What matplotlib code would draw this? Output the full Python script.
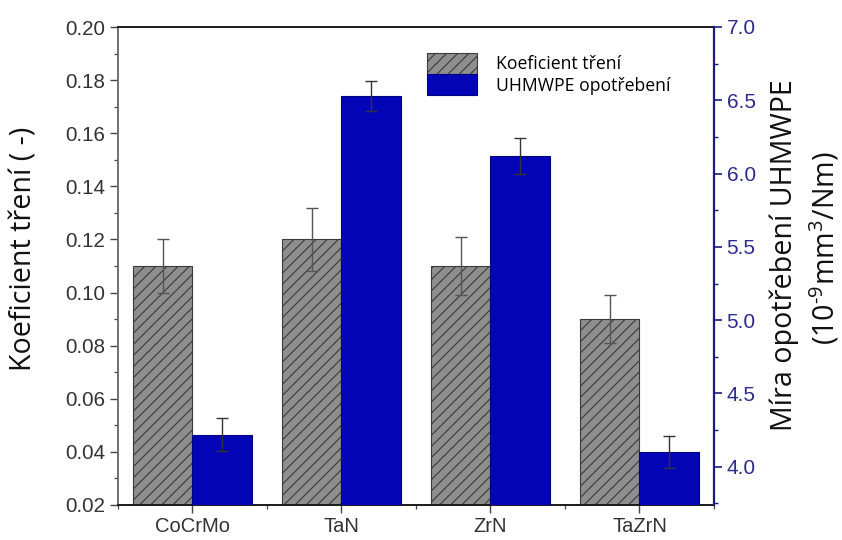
import matplotlib
matplotlib.use("Agg")
import matplotlib.pyplot as plt
import numpy as np
from matplotlib.ticker import FixedLocator

categories = ["CoCrMo", "TaN", "ZrN", "TaZrN"]
friction = [0.110, 0.120, 0.110, 0.090]
friction_err = [0.010, 0.012, 0.011, 0.009]
wear = [4.22, 6.53, 6.12, 4.10]
wear_err = [0.11, 0.10, 0.12, 0.11]

left_ticks = [0.02, 0.04, 0.06, 0.08, 0.10, 0.12, 0.14, 0.16, 0.18, 0.20]
right_ticks = [4.0, 4.5, 5.0, 5.5, 6.0, 6.5, 7.0]

plt.rcParams["hatch.linewidth"] = 0.8
plt.rcParams["hatch.color"] = "#1a1a1a"
plt.rcParams["mathtext.fontset"] = "custom"
plt.rcParams["mathtext.rm"] = "Open Sans"
plt.rcParams["mathtext.it"] = "Open Sans:italic"
plt.rcParams["mathtext.bf"] = "Open Sans:bold"

fig = plt.figure(figsize=(8.42, 5.40), dpi=100)
ax = fig.add_axes([0.140, 0.065, 0.708, 0.885])
ax2 = ax.twinx()

x = np.arange(len(categories))
w = 0.40

ax.bar(x - w / 2, friction, width=w, color="#8e8e8e", edgecolor="#3a3a3a",
       linewidth=0.8, hatch="///", label="Koeficient tření", zorder=2)
ax.errorbar(x - w / 2, friction, yerr=friction_err, fmt="none", ecolor="#555555",
            elinewidth=1.0, capsize=4, capthick=1.0, zorder=3)

ax2.bar(x + w / 2, wear, width=w, color="#0505b8", edgecolor="#03037a",
        linewidth=0.8, label="UHMWPE opotřebení", zorder=2)
ax2.errorbar(x + w / 2, wear, yerr=wear_err, fmt="none", ecolor="#333333",
             elinewidth=1.0, capsize=4, capthick=1.0, zorder=3)

ax.set_xlim(-0.5, 3.5)
ax.set_ylim(0.02, 0.20)
ax2.set_ylim(3.74, 7.0)

ax.set_xticks(x)
ax.set_xticklabels(categories, family="Liberation Sans", fontsize=14.5,
                   color="#333333")
ax.xaxis.set_minor_locator(FixedLocator([-0.5, 0.5, 1.5, 2.5, 3.5]))
ax.set_yticks(left_ticks)
ax.set_yticklabels([f"{v:.2f}" for v in left_ticks], family="Liberation Sans",
                   fontsize=14.8, color="#333333")
ax.yaxis.set_minor_locator(FixedLocator(np.arange(0.03, 0.20, 0.02)))

ax2.set_yticks(right_ticks)
ax2.set_yticklabels([f"{v:.1f}" for v in right_ticks], family="Liberation Sans",
                    fontsize=15, color="#2b2b8a")
ax2.yaxis.set_minor_locator(FixedLocator(np.arange(3.75, 7.0, 0.5)))

ax.tick_params(axis="both", which="major", direction="out", length=6, width=1.0,
               color="#444444", pad=3)
ax.tick_params(axis="both", which="minor", direction="out", length=3, width=0.9,
               color="#444444")
ax.tick_params(axis="y", which="both", right=False)
ax2.tick_params(axis="y", which="major", direction="out", length=6, width=1.2,
                color="#1c1c80", pad=3)
ax2.tick_params(axis="y", which="minor", direction="out", length=3, width=1.0,
                color="#1c1c80")

ax.spines["left"].set_color("#707070")
ax.spines["left"].set_linewidth(1.4)
ax.spines["bottom"].set_color("#1a1a1a")
ax.spines["bottom"].set_linewidth(1.4)
ax.spines["top"].set_color("#1a1a1a")
ax.spines["top"].set_linewidth(1.4)
ax2.spines["right"].set_color("#1c1c80")
ax2.spines["right"].set_linewidth(1.6)
ax2.spines["left"].set_visible(False)
ax2.spines["top"].set_visible(False)
ax2.spines["bottom"].set_visible(False)
ax.spines["right"].set_visible(False)

label_font = dict(family="Open Sans", fontsize=20.6, color="#111111")
fig.text(0.0285, 0.539, "Koeficient tření ( -)", rotation=90, ha="center",
         va="center", **label_font)
fig.text(0.932, 0.528, "Míra opotřebení UHMWPE", rotation=90, ha="center",
         va="center", **label_font)
fig.text(0.979, 0.540, r"(10$^{\text{-9}}$mm$^{3}$/Nm)", rotation=90, ha="center",
         va="center", **label_font)

h1, l1 = ax.get_legend_handles_labels()
h2, l2 = ax2.get_legend_handles_labels()
leg = ax2.legend(h1 + h2, l1 + l2, loc="upper left", bbox_to_anchor=(0.518, 0.946),
                 frameon=False, prop=dict(family="Open Sans", size=12.7),
                 handlelength=2.84, handleheight=1.48, handletextpad=1.1,
                 labelspacing=0.0, borderaxespad=0, borderpad=0)

fig.savefig("out.png", dpi=100, facecolor="white")
